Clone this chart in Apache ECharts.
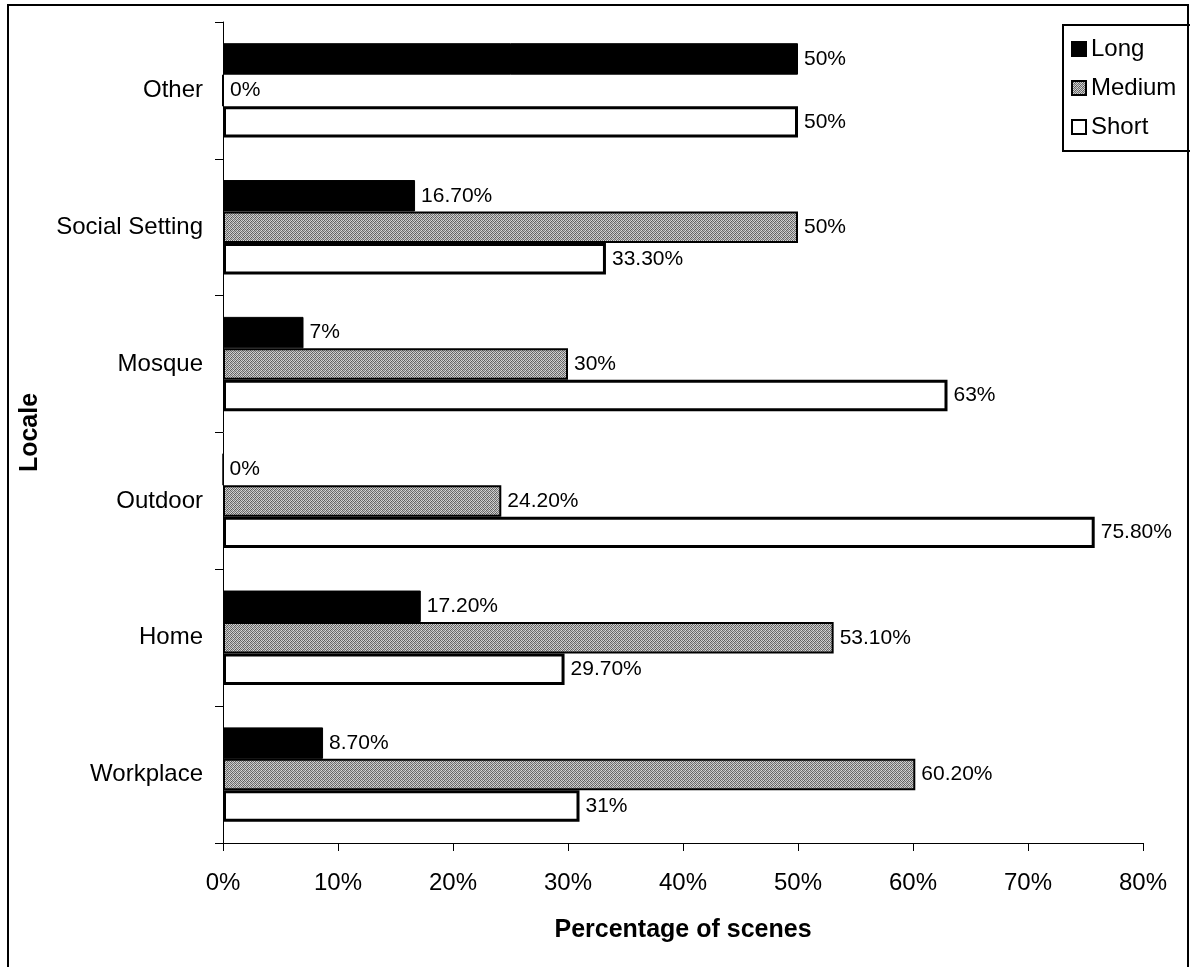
<!DOCTYPE html>
<html>
<head>
<meta charset="utf-8">
<script src="https://cdn.jsdelivr.net/npm/echarts@6/dist/echarts.min.js"></script>
<style>
  html, body { margin: 0; padding: 0; background: #fff; }
  #main { width: 1190px; height: 967px; }
</style>
</head>
<body>
<div id="main"></div>
<script>
var categories = ['Other', 'Social Setting', 'Mosque', 'Outdoor', 'Home', 'Workplace'];
var xTicks = ['0%', '10%', '20%', '30%', '40%', '50%', '60%', '70%', '80%'];

var longValues = [50, 16.7, 7, 0, 17.2, 8.7];
var mediumValues = [0, 50, 30, 24.2, 53.1, 60.2];
var shortValues = [50, 33.3, 63, 75.8, 29.7, 31];

var longLabels = ['50%', '16.70%', '7%', '0%', '17.20%', '8.70%'];
var mediumLabels = ['0%', '50%', '30%', '24.20%', '53.10%', '60.20%'];
var shortLabels = ['50%', '33.30%', '63%', '75.80%', '29.70%', '31%'];

// stippled grey fill like the printed chart
function stipple() {
  var c = document.createElement('canvas');
  c.width = 4; c.height = 4;
  var g = c.getContext('2d');
  var cols = [['#5e5e5e', '#cfcfcf', '#7c7c7c', '#d8d8d8'],
              ['#c4c4c4', '#6a6a6a', '#d2d2d2', '#5a5a5a'],
              ['#808080', '#dadada', '#646464', '#bfbfbf'],
              ['#cccccc', '#747474', '#bababa', '#6e6e6e']];
  for (var y = 0; y < 4; y++) {
    for (var x = 0; x < 4; x++) {
      g.fillStyle = cols[y][x];
      g.fillRect(x, y, 1, 1);
    }
  }
  return c;
}

var font = "'Liberation Sans', Arial, sans-serif";

function bar(name, values, labels, color, borderWidth) {
  return {
    name: name,
    type: 'bar',
    data: values,
    barGap: '0%',
    barCategoryGap: '31%',
    itemStyle: { color: color, borderColor: '#000', borderWidth: borderWidth },
    label: {
      show: true,
      position: 'right',
      distance: 6,
      color: '#000',
      fontSize: 21,
      fontFamily: font,
      formatter: function (p) { return labels[p.dataIndex]; }
    }
  };
}

var myChart = echarts.init(document.getElementById('main'));
var option = {
  animation: false,
  backgroundColor: '#fff',
  textStyle: { fontFamily: font, color: '#000' },
  grid: { left: 223, right: 47, top: 22, bottom: 124, containLabel: false },
  legend: {
    orient: 'vertical',
    left: 1063,
    top: 25,
    padding: [12, 40, 12, 8],
    borderColor: '#000',
    borderWidth: 2,
    itemWidth: 14,
    itemHeight: 14,
    itemGap: 15,
    icon: 'rect',
    textStyle: { fontSize: 24, color: '#000', fontFamily: font, lineHeight: 24 },
    data: ['Long', 'Medium', 'Short']
  },
  xAxis: {
    type: 'value',
    min: 0,
    max: 80,
    interval: 10,
    name: 'Percentage of scenes',
    nameLocation: 'middle',
    nameGap: 75,
    nameTextStyle: { fontSize: 25, fontWeight: 'bold', color: '#000', fontFamily: font },
    axisLine: { show: true, lineStyle: { color: '#000', width: 1 } },
    axisTick: { show: true, length: 8, lineStyle: { color: '#000' } },
    splitLine: { show: false },
    axisLabel: {
      fontSize: 24, color: '#000', margin: 28, fontFamily: font,
      formatter: function (v) { return xTicks[Math.round(v / 10)]; }
    }
  },
  yAxis: {
    type: 'category',
    data: categories,
    inverse: true,
    name: 'Locale',
    nameLocation: 'middle',
    nameGap: 180,
    nameTextStyle: { fontSize: 25, fontWeight: 'bold', color: '#000', fontFamily: font },
    axisLine: { show: true, lineStyle: { color: '#000', width: 1 } },
    axisTick: { show: true, length: 8, lineStyle: { color: '#000' } },
    axisLabel: { fontSize: 24, color: '#000', margin: 20, fontFamily: font }
  },
  graphic: [{
    type: 'rect',
    shape: { x: 8, y: 5, width: 1180, height: 980 },
    style: { fill: null, stroke: '#000', lineWidth: 2 },
    silent: true,
    z: -1
  }],
  series: [
    bar('Long', longValues, longLabels, '#000', 1),
    bar('Medium', mediumValues, mediumLabels, { image: stipple(), repeat: 'repeat' }, 2),
    bar('Short', shortValues, shortLabels, '#fff', 3)
  ]
};
myChart.setOption(option);
</script>
</body>
</html>
